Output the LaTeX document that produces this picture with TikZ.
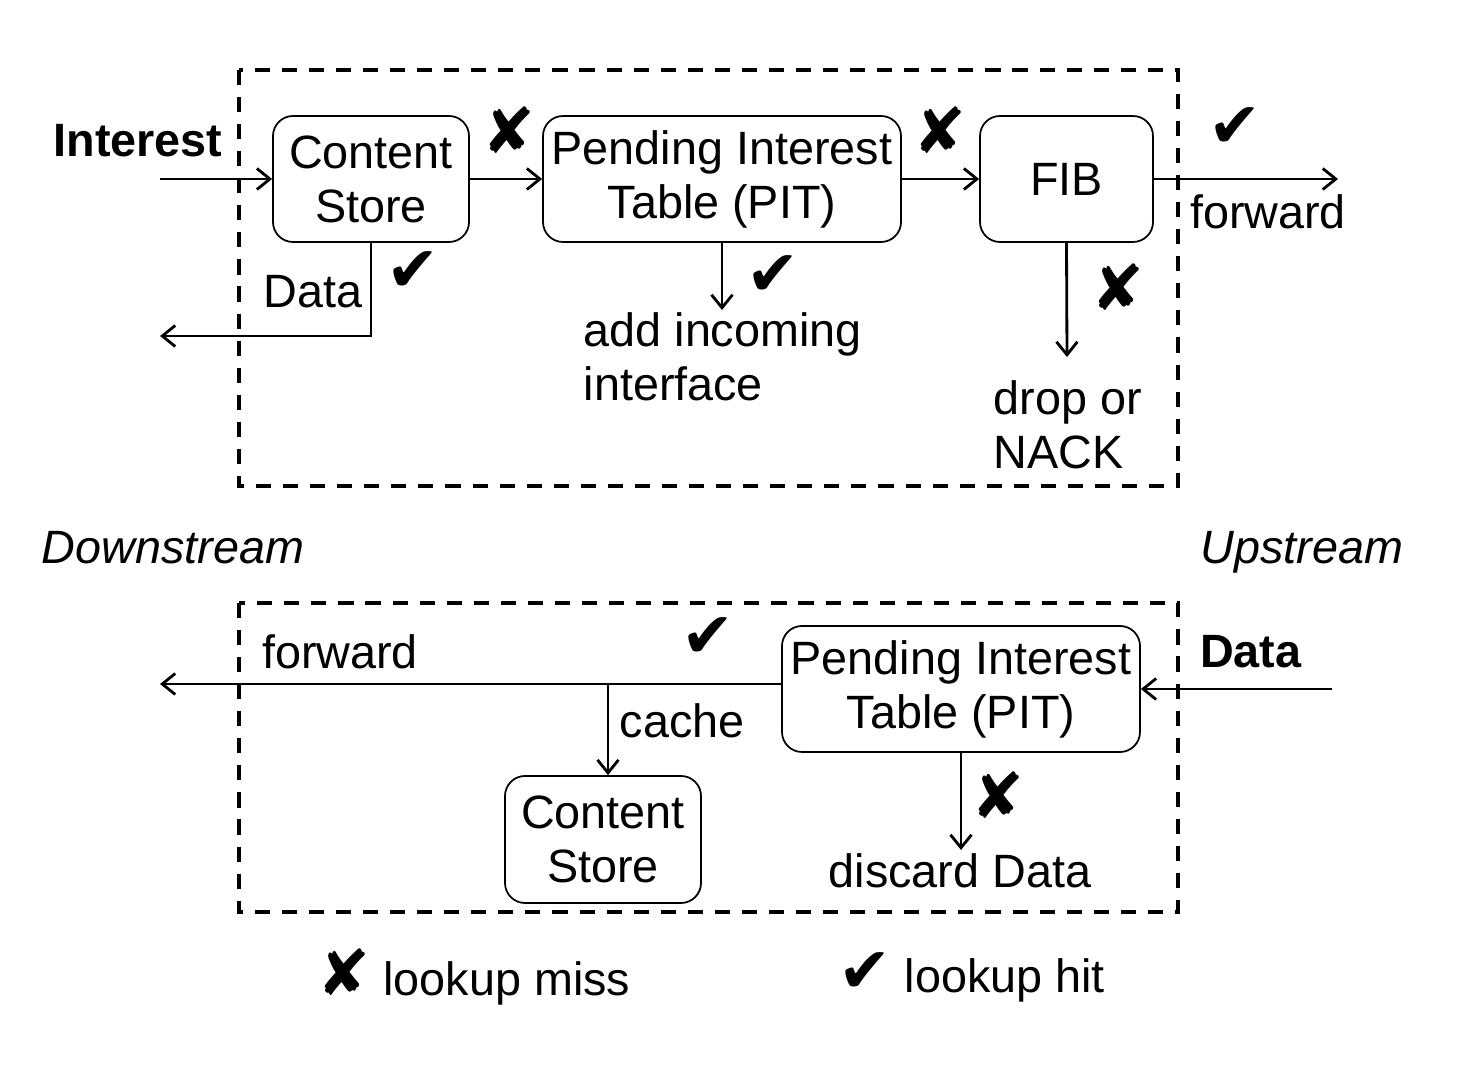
\documentclass[tikz,border=0pt]{standalone}
\usepackage{fontspec}
\setmainfont{Liberation Sans}
\newfontfamily\markfont{DejaVu Sans}
\usetikzlibrary{positioning}
\usetikzlibrary{arrows.meta}

\newcommand{\hit}{{\markfont\fontsize{18}{18}\selectfont ✔}}
\newcommand{\miss}{{\markfont\fontsize{18}{18}\selectfont ✘}}

\begin{document}
\begin{tikzpicture}[y=-1cm,
    every node/.style={font=\fontsize{13.3}{15.4}\selectfont},
    tablebox/.style={draw, rounded corners=2mm, align=center, inner sep=0pt,
                     minimum height=1.26cm, line width=0.5pt},
    router/.style={draw, line width=0.9pt, dash pattern=on 4.3pt off 3.4pt},
    arr/.style={line width=0.8pt, -{Straight Barb[length=1.3mm,width=2.1mm]}},
    multi/.style={align=left, anchor=west, inner sep=0pt}]
    \useasboundingbox (0,0) rectangle (14.66,10.72);

    % Interest path (router boundary)
    \draw[router] (2.39,0.70) rectangle (11.78,4.86);

    % Tables
    \node[tablebox, minimum width=1.96cm] (cs)  at (3.71,1.79)  {Content\\Store};
    \node[tablebox, minimum width=3.58cm] (pit) at (7.22,1.79)  {Pending Interest\\Table (PIT)};
    \node[tablebox, minimum width=1.73cm] (fib) at (10.665,1.79) {FIB};

    % free ends
    \coordinate (intin)   at (1.60,1.79);
    \coordinate (fwdout)  at (13.38,1.79);
    \coordinate (dataout) at (1.60,3.36);
    \coordinate (addif)   at (7.22,3.10);
    \coordinate (drop)    at (10.67,3.57);

    % Labels
    \node (interest) at (1.38,1.41) {\textbf{Interest}};
    \node (datalbl)  at (3.13,2.92) {Data};
    \node (fwdlbl)   at (12.68,2.12) {forward};
    \node[multi] (addlbl)  at (5.83,3.57) {add incoming\\interface};
    \node[multi] (droplbl) at (9.93,4.25) {drop or\\NACK};

    % lookup results
    \node (m1) at (5.09,1.30) {\miss};
    \node (m2) at (9.40,1.30) {\miss};
    \node (m3) at (11.18,2.87) {\miss};
    \node (h1) at (12.35,1.28) {\hit};
    \node (h2) at (4.13,2.72) {\hit};
    \node (h3) at (7.73,2.76) {\hit};

    % Lines
    \draw[arr] (intin) -- (cs);
    \draw[arr] (cs) -- (pit);
    \draw[arr] (pit) -- (fib);
    \draw[arr] (fib) -- (fwdout);
    \draw[arr] (cs.south) |- (dataout);
    \draw[arr] (pit.south) -- (addif);
    \draw[arr] (fib.south) -- (drop);

    % sides
    \node (down) at (1.73,5.48) {\itshape Downstream};
    \node (up)   at (13.02,5.52) {\itshape Upstream};

    % Data path (router boundary)
    \draw[router] (2.39,6.03) rectangle (11.78,9.12);

    % Tables
    \node[tablebox, minimum width=3.58cm] (pit2) at (9.61,6.89)  {Pending Interest\\Table (PIT)};
    \node[tablebox, minimum width=1.96cm, minimum height=1.27cm] (cs2) at (6.03,8.395) {Content\\Store};

    % free ends
    \coordinate (datain)  at (13.32,6.89);
    \coordinate (fwd2)    at (1.60,6.84);
    \coordinate (branch)  at (6.08,6.84);
    \coordinate (discard) at (9.61,8.50);

    % Labels
    \node (datalbl2)  at (12.51,6.52) {\textbf{Data}};
    \node (fwdlbl2)   at (3.40,6.52) {forward};
    \node (cachelbl)  at (6.82,7.21) {cache};
    \node (disclbl)   at (9.60,8.71) {discard Data};
    \node (h4) at (7.08,6.38) {\hit};
    \node (m4) at (9.98,7.95) {\miss};

    % Lines
    \draw[arr] (datain) -- (pit2);
    \draw[arr] (pit2.west |- fwd2) -- (fwd2);
    \draw[arr] (branch) -- (branch |- cs2.north);
    \draw[arr] (pit2.south) -- (discard);

    % legend
    \node (missleg) at (4.74,9.77) {\miss\ lookup miss};
    \node (hitleg)  at (9.72,9.77) {\hit\ lookup hit};
\end{tikzpicture}
\end{document}
